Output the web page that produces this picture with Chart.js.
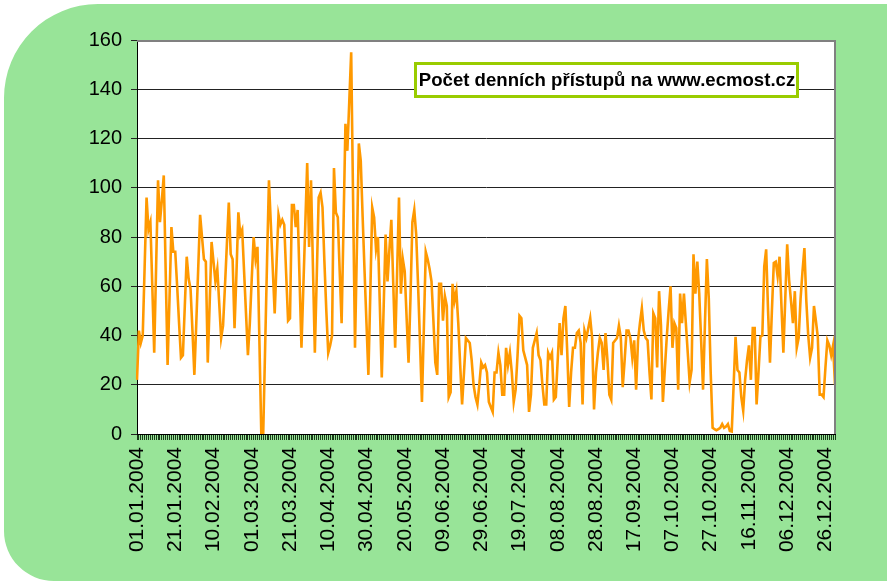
<!DOCTYPE html>
<html>
<head>
<meta charset="utf-8">
<title>ecmost.cz</title>
<script src="https://cdn.jsdelivr.net/npm/chart.js@4.4.0/dist/chart.umd.min.js"></script>
<style>
  body { margin: 0; background: #fff; }
  canvas { display: block; }
</style>
</head>
<body>
<canvas id="chart" width="887" height="581"></canvas>
<script>
var chartTitle = 'Počet denních přístupů na www.ecmost.cz';

// every 20th day gets a label on the x axis
var tickLabels = ['01.01.2004', '21.01.2004', '10.02.2004', '01.03.2004', '21.03.2004',
  '10.04.2004', '30.04.2004', '20.05.2004', '09.06.2004', '29.06.2004', '19.07.2004',
  '08.08.2004', '28.08.2004', '17.09.2004', '07.10.2004', '27.10.2004', '16.11.2004',
  '06.12.2004', '26.12.2004'];

var yTicks = [0, 20, 40, 60, 80, 100, 120, 140, 160];

// daily visits, 1.1.2004 - 31.12.2004
var visits = [
  22, 42, 37, 40, 68, 96, 83, 86, 60, 33,
  68, 103, 86, 95, 105, 66, 28, 55, 84, 74,
  74, 60, 45, 31, 32, 52, 72, 63, 59, 42,
  24, 45, 67, 89, 80, 71, 70, 29, 53, 78,
  70, 62, 67, 53, 39, 44, 60, 77, 94, 73,
  71, 43, 65, 90, 81, 83, 66, 49, 32, 45,
  63, 80, 71, 76, 38, 0, 0, 35, 70, 103,
  85, 67, 49, 70, 89, 85, 87, 85, 65, 46,
  47, 93, 93, 84, 91, 63, 35, 60, 85, 110,
  76, 103, 68, 33, 64, 96, 98, 92, 70, 50,
  33, 36, 40, 108, 90, 88, 66, 45, 85, 126,
  115, 135, 155, 95, 35, 76, 118, 111, 88, 66,
  45, 24, 57, 92, 88, 75, 80, 52, 23, 52,
  81, 62, 75, 87, 61, 35, 65, 96, 57, 71,
  66, 47, 29, 55, 86, 91, 81, 60, 37, 13,
  43, 74, 71, 67, 62, 46, 29, 24, 61, 61,
  46, 56, 52, 15, 17, 61, 54, 58, 45, 28,
  12, 25, 39, 38, 37, 30, 20, 15, 12, 20,
  29, 27, 28, 25, 13, 11, 9, 25, 25, 33,
  28, 16, 16, 35, 28, 33, 25, 13, 18, 32,
  48, 47, 34, 31, 28, 9, 16, 35, 38, 41,
  32, 30, 20, 12, 12, 33, 31, 33, 14, 15,
  30, 45, 32, 47, 52, 33, 11, 25, 35, 35,
  41, 42, 37, 12, 42, 39, 43, 47, 39, 10,
  25, 33, 39, 37, 26, 41, 30, 16, 14, 37,
  38, 39, 44, 39, 19, 30, 42, 42, 39, 31,
  38, 18, 38, 45, 51, 42, 39, 38, 25, 14,
  49, 47, 27, 58, 44, 13, 26, 39, 50, 60,
  35, 45, 43, 18, 57, 45, 57, 45, 33, 21,
  26, 73, 57, 70, 57, 38, 18, 45, 71, 55,
  25, 2.5, 2, 1.5, 2, 2.5, 4, 2.5, 3, 4,
  1.2, 1, 20, 39.5, 26, 25, 15, 9.5, 22, 30,
  36, 22, 43, 43, 12, 25, 39.5, 40, 68, 75,
  50, 29, 50, 69.5, 70, 64, 72, 52, 33, 55,
  77, 62.5, 54, 45, 58, 35, 39, 55, 66, 75.5,
  54, 40, 31, 35, 52, 46, 39.5, 16, 16, 15,
  27, 38, 36, 32, 36, 20
];

// one category per day of 2004
var days = [];
for (var i = 0; i < visits.length; i++) {
  var d = new Date(2004, 0, 1 + i);
  var dd = ('0' + d.getDate()).slice(-2);
  var mm = ('0' + (d.getMonth() + 1)).slice(-2);
  days.push(dd + '.' + mm + '.' + d.getFullYear());
}

var FONT = '"Liberation Sans", Arial, sans-serif';

var panel = {
  id: 'panel',
  beforeDraw: function(chart) {
    var c = chart.ctx, a = chart.chartArea;
    c.save();
    c.fillStyle = '#fff';
    c.fillRect(0, 0, chart.width, chart.height);
    c.fillStyle = '#98e498';
    c.beginPath();
    c.moveTo(4, 100);
    c.arcTo(4, 4, 100, 4, 94);
    c.lineTo(887, 4);
    c.lineTo(887, 581);
    c.lineTo(52, 581);
    c.arcTo(4, 581, 4, 528, 50);
    c.closePath();
    c.fill();
    c.fillStyle = '#fff';
    c.fillRect(a.left, a.top, a.right - a.left, a.bottom - a.top);
    c.restore();
  },
  afterDraw: function(chart) {
    var c = chart.ctx, a = chart.chartArea;
    c.save();
    // grey frame top and right
    c.strokeStyle = '#808080';
    c.lineWidth = 2;
    c.beginPath();
    c.moveTo(a.left, a.top + 1);
    c.lineTo(a.right, a.top + 1);
    c.lineTo(a.right, a.bottom);
    c.stroke();
    // title box
    var bx = 415, by = 63, bw = 382, bh = 33;
    c.fillStyle = '#fff';
    c.fillRect(bx, by, bw, bh);
    c.strokeStyle = '#99cc00';
    c.lineWidth = 3;
    c.strokeRect(bx + 0.5, by + 0.5, bw, bh);
    c.fillStyle = '#000';
    c.font = 'bold 18.6px ' + FONT;
    c.textAlign = 'center';
    c.textBaseline = 'middle';
    c.fillText(chartTitle, bx + bw / 2 + 1, by + bh / 2 + 1);
    c.restore();
  }
};

var ctx = document.getElementById('chart').getContext('2d');
var chart = new Chart(ctx, {
  type: 'line',
  data: {
    labels: days,
    datasets: [{
      label: chartTitle,
      data: visits,
      borderColor: '#ff9900',
      borderWidth: 2.6,
      pointRadius: 0,
      tension: 0,
      fill: false
    }]
  },
  options: {
    responsive: false,
    animation: false,
    devicePixelRatio: 1,
    layout: { padding: { left: 0, top: 40, right: 52, bottom: 0 } },
    plugins: { legend: { display: false }, tooltip: { enabled: false } },
    scales: {
      x: {
        offset: false,
        afterFit: function(s) { s.height = 147; },
        grid: { drawOnChartArea: false, color: '#1a3a1a', tickLength: 6 },
        border: { color: '#000', width: 1 },
        ticks: {
          autoSkip: false,
          minRotation: 90,
          maxRotation: 90,
          padding: 7,
          color: '#000',
          font: { family: FONT, size: 21 },
          callback: function(v, i) { return i % 20 === 0 ? tickLabels[i / 20] : ''; }
        }
      },
      y: {
        min: yTicks[0],
        max: yTicks[yTicks.length - 1],
        afterFit: function(s) { s.width = 137; },
        afterBuildTicks: function(s) { s.ticks = yTicks.map(function(v) { return { value: v }; }); },
        grid: { color: '#222', tickLength: 6 },
        border: { color: '#000', width: 1 },
        ticks: {
          padding: 9,
          color: '#000',
          font: { family: FONT, size: 20 }
        }
      }
    }
  },
  plugins: [panel]
});
</script>
</body>
</html>
